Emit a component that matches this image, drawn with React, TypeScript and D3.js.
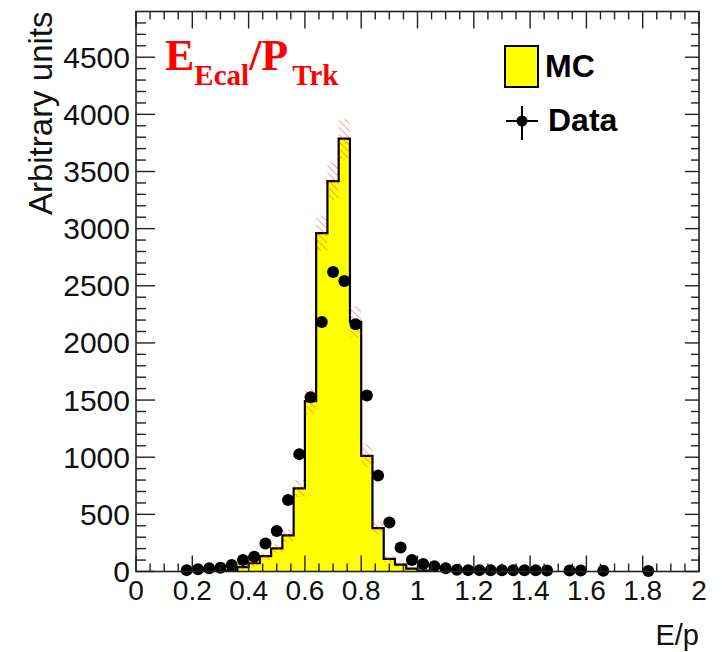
import React from "react";
import * as d3 from "d3";

// ---- data ----
const mcBinLow = [0.32, 0.36, 0.40, 0.44, 0.48, 0.52, 0.56, 0.60, 0.64, 0.68, 0.72, 0.76, 0.80, 0.84, 0.88, 0.92, 0.96, 1.00];
const mcValues = [10, 38, 72, 135, 203, 316, 727, 1490, 2960, 3416, 3787, 2184, 1012, 380, 110, 60, 25, 8];
const mcErrors = [6, 18, 25, 34, 41, 52, 75, 112, 155, 165, 172, 140, 100, 57, 30, 22, 15, 8];
const binWidth = 0.04;

const dataX = [0.18, 0.22, 0.26, 0.30, 0.34, 0.38, 0.42, 0.46, 0.50, 0.54, 0.58, 0.62, 0.66, 0.70, 0.74, 0.78, 0.82, 0.86, 0.90, 0.94, 0.98, 1.02, 1.06, 1.10, 1.14, 1.18, 1.22, 1.26, 1.30, 1.34, 1.38, 1.42, 1.46, 1.54, 1.58, 1.66, 1.82];
const dataY = [12, 20, 28, 33, 57, 100, 130, 246, 354, 625, 1027, 1525, 2184, 2620, 2542, 2164, 1540, 840, 428, 210, 100, 65, 45, 28, 15, 12, 12, 10, 10, 10, 10, 10, 8, 8, 8, 6, 5];

const xTickValues = [0, 0.2, 0.4, 0.6, 0.8, 1, 1.2, 1.4, 1.6, 1.8, 2];
const xTickLabels = ["0", "0.2", "0.4", "0.6", "0.8", "1", "1.2", "1.4", "1.6", "1.8", "2"];
const yTickValues = [0, 500, 1000, 1500, 2000, 2500, 3000, 3500, 4000, 4500];
const yTickLabels = ["0", "500", "1000", "1500", "2000", "2500", "3000", "3500", "4000", "4500"];

const X0 = 136, X1 = 699, Y0 = 571.5, Y1 = 11.5;

export default function App() {
  const x = d3.scaleLinear().domain([0, 2]).range([X0, X1]);
  const y = d3.scaleLinear().domain([0, 4900]).range([Y0, Y1]);

  const xMinor = d3.range(0, 2.0001, 0.05);
  const yMinor = d3.range(0, 4900, 100);

  const pts: [number, number][] = [[mcBinLow[0], 0]];
  mcBinLow.forEach((b, i) => pts.push([b, mcValues[i]]));
  const lastEdge = mcBinLow[mcBinLow.length - 1] + binWidth;
  pts.push([lastEdge, mcValues[mcValues.length - 1]]);
  pts.push([lastEdge, 0]);
  const stepLine = d3
    .line<[number, number]>()
    .x((d) => x(d[0]))
    .y((d) => y(d[1]))
    .curve(d3.curveStepAfter);
  const stepPath = stepLine(pts) || "";

  const font = "'Liberation Sans', Arial, Helvetica, sans-serif";
  const axisColor = "#222";

  return (
    <svg width={722} height={652} style={{ position: "absolute", left: 0, top: 0, background: "#fff" }}>
      <defs>
        <pattern id="hatch" patternUnits="userSpaceOnUse" width={5} height={5} patternTransform="rotate(45)">
          <line x1={0} y1={0} x2={5} y2={0} stroke="#ff3030" strokeWidth={1.3} strokeOpacity={0.7} />
        </pattern>
      </defs>
      <rect x={0} y={0} width={722} height={652} fill="#fff" />

      {/* MC histogram */}
      <path d={stepPath} fill="#ffff00" stroke="none" />
      <path d={stepPath} fill="none" stroke="#000" strokeWidth={2.2} />

      {/* MC error band */}
      {mcBinLow.map((b, i) => (
        <rect
          key={"e" + i}
          x={x(b)}
          width={x(b + binWidth) - x(b)}
          y={y(mcValues[i] + mcErrors[i])}
          height={y(Math.max(0, mcValues[i] - mcErrors[i])) - y(mcValues[i] + mcErrors[i])}
          fill="url(#hatch)"
        />
      ))}

      {/* Data */}
      {dataX.map((dx, i) => (
        <circle key={"d" + i} cx={x(dx)} cy={y(dataY[i])} r={6} fill="#000" />
      ))}

      {/* frame */}
      <rect x={X0} y={Y1} width={X1 - X0} height={Y0 - Y1} fill="none" stroke={axisColor} strokeWidth={1.6} />

      {/* x ticks (bottom & top) */}
      {xMinor.map((v, i) => {
        const major = Math.abs(v / 0.2 - Math.round(v / 0.2)) < 1e-6;
        const lb = major ? 16 : 8;
        const lt = major ? 17 : 8;
        return (
          <g key={"xt" + i} stroke={axisColor} strokeWidth={1.4}>
            <line x1={x(v)} x2={x(v)} y1={Y0} y2={Y0 - lb} />
            <line x1={x(v)} x2={x(v)} y1={Y1} y2={Y1 + lt} />
          </g>
        );
      })}
      {/* y ticks (left & right) */}
      {yMinor.map((v, i) => {
        const major = v % 500 === 0;
        const ll = major ? 19 : 10;
        const lr = major ? 14 : 8;
        return (
          <g key={"yt" + i} stroke={axisColor} strokeWidth={1.4}>
            <line x1={X0} x2={X0 + ll} y1={y(v)} y2={y(v)} />
            <line x1={X1} x2={X1 - lr} y1={y(v)} y2={y(v)} />
          </g>
        );
      })}

      {/* tick labels */}
      {xTickValues.map((v, i) => (
        <text key={"xl" + i} x={x(v)} y={600} textAnchor="middle" fontFamily={font} fontSize={28} fill="#111">
          {xTickLabels[i]}
        </text>
      ))}
      {yTickValues.map((v, i) => (
        <text key={"yl" + i} x={130} y={y(v) + 10.5} textAnchor="end" fontFamily={font} fontSize={30} fill="#111">
          {yTickLabels[i]}
        </text>
      ))}

      {/* axis titles */}
      <text x={X1} y={645} textAnchor="end" fontFamily={font} fontSize={29} fill="#111">
        E/p
      </text>
      <text transform={`translate(52, ${Y1}) rotate(-90)`} textAnchor="end" fontFamily={font} fontSize={33} fill="#111">
        Arbitrary units
      </text>

      {/* title */}
      <text x={165} y={70} fontFamily="'Liberation Serif', 'Times New Roman', serif" fontWeight="bold" fill="#ff0000" fontSize={44}>
        E
        <tspan fontSize={29} dy={15}>Ecal</tspan>
        <tspan fontSize={44} dy={-15}>/P</tspan>
        <tspan fontSize={29} dy={15} dx={4}>Trk</tspan>
      </text>

      {/* legend */}
      <rect x={505} y={46} width={33} height={41} fill="#ffff00" stroke="#000" strokeWidth={2} />
      <text x={545} y={77} fontFamily={font} fontWeight="bold" fontSize={32} fill="#000">
        MC
      </text>
      <line x1={506} x2={538} y1={121} y2={121} stroke="#000" strokeWidth={2} />
      <line x1={522} x2={522} y1={106} y2={140} stroke="#000" strokeWidth={2} />
      <circle cx={522} cy={121} r={5.5} fill="#000" />
      <text x={548} y={131} fontFamily={font} fontWeight="bold" fontSize={32} fill="#000">
        Data
      </text>
    </svg>
  );
}
